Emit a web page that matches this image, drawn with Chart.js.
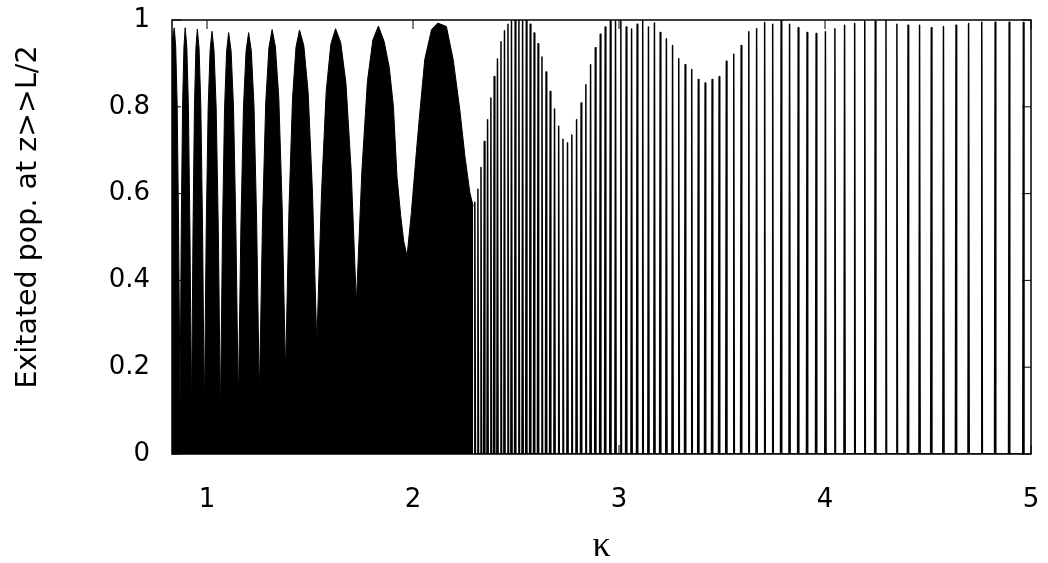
<!doctype html>
<html>
  <head>
    <title>exitated population vs kappa</title>
    <meta charset="UTF-8">
    <script src="https://cdn.jsdelivr.net/npm/chart.js"></script>
    <style>
      body { margin: 0; background: #fff; }
    </style>
  </head>
  <body>
    <canvas id="pop" width="1048" height="563"></canvas>
    <script>
      // axis values
      const xTicks = [1, 2, 3, 4, 5];
      const yTicks = [0, 0.2, 0.4, 0.6, 0.8, 1];
      const xTitle = 'κ';
      const yTitle = 'Exitated pop. at z>>L/2';

      // dense part (kappa < 2.3): the oscillation is finer than a pixel,
      // so only its upper envelope is read off the picture
      const envK = [
        0.830, 0.841, 0.848, 0.855, 0.862, 0.869, 0.875, 0.8815, 0.888, 0.894,
        0.902, 0.9095, 0.917, 0.925, 0.932, 0.939, 0.946, 0.953, 0.9615, 0.970,
        0.9785, 0.987, 0.996, 1.0055, 1.015, 1.024, 1.034, 1.0445, 1.055, 1.065,
        1.075, 1.085, 1.095, 1.105, 1.117, 1.1285, 1.140, 1.152, 1.1645, 1.177,
        1.1895, 1.202, 1.215, 1.228, 1.241, 1.254, 1.2695, 1.285, 1.3005, 1.316,
        1.332, 1.3485, 1.365, 1.381, 1.398, 1.415, 1.432, 1.449, 1.470, 1.491,
        1.512, 1.533, 1.556, 1.5785, 1.601, 1.624, 1.649, 1.6745, 1.700, 1.725,
        1.752, 1.7785, 1.805, 1.832, 1.860, 1.885, 1.905, 1.922, 1.940, 1.955,
        1.971, 1.992, 2.017, 2.033, 2.057, 2.090, 2.120, 2.162, 2.195, 2.227,
        2.252, 2.276, 2.292
      ];
      const envTop = [
        0.950, 0.982, 0.938, 0.806, 0.525, 0.103, 0.525, 0.806, 0.938, 0.982,
        0.937, 0.804, 0.519, 0.091, 0.517, 0.801, 0.935, 0.979, 0.934, 0.801,
        0.515, 0.087, 0.513, 0.797, 0.930, 0.974, 0.930, 0.797, 0.513, 0.087,
        0.511, 0.794, 0.927, 0.971, 0.928, 0.800, 0.525, 0.114, 0.525, 0.800,
        0.928, 0.971, 0.929, 0.803, 0.535, 0.133, 0.539, 0.809, 0.936, 0.978,
        0.938, 0.820, 0.567, 0.187, 0.566, 0.819, 0.938, 0.977, 0.941, 0.833,
        0.602, 0.256, 0.604, 0.835, 0.944, 0.980, 0.948, 0.854, 0.651, 0.348,
        0.654, 0.858, 0.954, 0.986, 0.950, 0.890, 0.800, 0.640, 0.550, 0.490,
        0.456, 0.556, 0.700, 0.786, 0.909, 0.978, 0.993, 0.985, 0.909, 0.794,
        0.686, 0.602, 0.571
      ];

      // resolved part: one narrow spike per oscillation, position and height
      const spikeK = [
        2.300, 2.315, 2.330, 2.346, 2.362, 2.378, 2.394, 2.410, 2.427, 2.444,
        2.461, 2.478, 2.496, 2.514, 2.532, 2.550, 2.569, 2.588, 2.607, 2.626,
        2.646, 2.666, 2.687, 2.707, 2.728, 2.750, 2.771, 2.794, 2.816, 2.839,
        2.862, 2.885, 2.909, 2.933, 2.958, 2.983, 3.009, 3.035, 3.061, 3.088,
        3.115, 3.143, 3.172, 3.200, 3.230, 3.260, 3.290, 3.321, 3.353, 3.385,
        3.418, 3.452, 3.486, 3.521, 3.557, 3.593, 3.630, 3.668, 3.707, 3.746,
        3.787, 3.828, 3.870, 3.913, 3.957, 4.002, 4.048, 4.095, 4.144, 4.193,
        4.244, 4.296, 4.349, 4.403, 4.459, 4.516, 4.575, 4.636, 4.697, 4.761,
        4.826, 4.894, 4.963
      ];
      const spikeTop = [
        0.58, 0.61, 0.66, 0.72, 0.77, 0.82, 0.87, 0.91, 0.95, 0.975,
        0.99, 0.998, 1.0, 1.0, 1.0, 1.0, 0.99, 0.97, 0.945, 0.915,
        0.88, 0.835, 0.795, 0.755, 0.725, 0.717, 0.735, 0.77, 0.809, 0.851,
        0.897, 0.936, 0.967, 0.984, 1.0, 1.0, 1.0, 0.984, 0.979, 0.99,
        1.0, 0.984, 0.993, 0.971, 0.957, 0.941, 0.911, 0.897, 0.886, 0.863,
        0.855, 0.863, 0.869, 0.905, 0.921, 0.941, 0.973, 0.98, 0.994, 0.99,
        1.0, 0.99, 0.982, 0.971, 0.969, 0.973, 0.980, 0.988, 0.992, 0.997,
        0.997, 0.999, 0.990, 0.988, 0.988, 0.982, 0.985, 0.988, 0.992, 0.995,
        0.995, 0.995, 0.994
      ];

      const SPIKE_HALF = 0.003;
      const FONT = '"DejaVu Sans", sans-serif';

      const envData = envK.map((k, i) => ({ x: k, y: envTop[i] }));
      const spikeData = [];
      spikeK.forEach((k, i) => {
        spikeData.push({ x: k - SPIKE_HALF, y: 0 });
        spikeData.push({ x: k, y: spikeTop[i] });
        spikeData.push({ x: k + SPIKE_HALF, y: 0 });
      });

      // gnuplot style box with inward ticks on all sides, plus axis titles
      const frame = {
        id: 'frame',
        afterDatasetsDraw(chart) {
          const { ctx, chartArea: a, scales: { x, y } } = chart;
          ctx.save();
          ctx.strokeStyle = '#000';
          ctx.lineWidth = 1.5;
          ctx.strokeRect(a.left, a.top, a.right - a.left, a.bottom - a.top);
          ctx.lineWidth = 1;
          ctx.beginPath();
          xTicks.forEach(v => {
            const px = x.getPixelForValue(v);
            ctx.moveTo(px, a.bottom); ctx.lineTo(px, a.bottom - 9);
            ctx.moveTo(px, a.top); ctx.lineTo(px, a.top + 9);
          });
          yTicks.forEach(v => {
            const py = y.getPixelForValue(v);
            ctx.moveTo(a.left, py); ctx.lineTo(a.left + 9, py);
            ctx.moveTo(a.right, py); ctx.lineTo(a.right - 9, py);
          });
          ctx.stroke();

          ctx.fillStyle = '#000';
          ctx.textAlign = 'center';
          ctx.textBaseline = 'middle';
          ctx.font = '36px "Liberation Serif", serif';
          ctx.fillText(xTitle, (a.left + a.right) / 2, 547);
          ctx.translate(29, 217);
          ctx.rotate(-Math.PI / 2);
          ctx.font = '28.5px ' + FONT;
          ctx.fillText(yTitle, 0, 0);
          ctx.restore();
        }
      };

      new Chart(document.getElementById('pop'), {
        type: 'line',
        data: {
          datasets: [
            {
              label: 'envelope',
              data: envData,
              borderColor: '#000',
              backgroundColor: '#000',
              borderWidth: 1,
              fill: 'origin',
              pointRadius: 0,
              tension: 0
            },
            {
              label: 'population',
              data: spikeData,
              borderColor: '#000',
              borderWidth: 1.5,
              borderJoinStyle: 'round',
              fill: false,
              pointRadius: 0,
              tension: 0
            }
          ]
        },
        options: {
          responsive: false,
          animation: false,
          devicePixelRatio: 1,
          layout: { padding: { top: 20, right: 17, bottom: 0, left: 0 } },
          plugins: {
            legend: { display: false },
            tooltip: { enabled: false }
          },
          scales: {
            x: {
              type: 'linear',
              min: 0.83,
              max: 5,
              afterFit: s => {
                s.height = 109;
                s.paddingLeft = 0;
                s.paddingRight = 0;
              },
              afterBuildTicks: s => { s.ticks = xTicks.map(v => ({ value: v })); },
              grid: { display: false, drawTicks: false },
              border: { display: false },
              ticks: {
                padding: 31,
                color: '#000',
                font: { family: FONT, size: 26 },
                callback: v => String(v)
              }
            },
            y: {
              min: 0,
              max: 1,
              afterFit: s => {
                s.width = 172;
                s.paddingTop = 0;
                s.paddingBottom = 0;
              },
              afterBuildTicks: s => { s.ticks = yTicks.map(v => ({ value: v })); },
              grid: { display: false, drawTicks: false },
              border: { display: false },
              ticks: {
                padding: 22,
                color: '#000',
                font: { family: FONT, size: 26 },
                callback: v => String(v)
              }
            }
          }
        },
        plugins: [frame]
      });
    </script>
  </body>
</html>
